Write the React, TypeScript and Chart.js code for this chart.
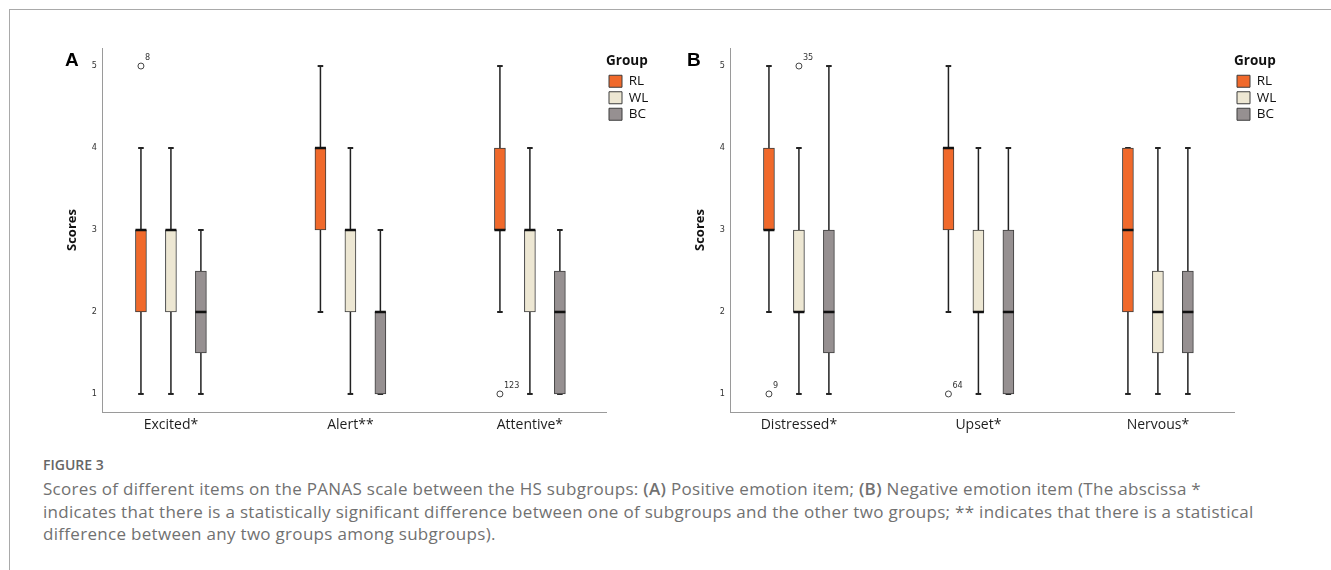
import React, { useEffect, useRef } from "react";
import { Chart, registerables } from "chart.js";

Chart.register(...registerables);

const FONT = '"Open Sans", "DejaVu Sans", sans-serif';
const NARROW = '"Liberation Sans Narrow", "DejaVu Sans Condensed", "Open Sans", sans-serif';

const GROUPS = ["RL", "WL", "BC"];
const GROUP_COLORS = ["#F0692B", "#EDE7D3", "#969091"];
const GROUP_OFFSETS = [-0.167, 0, 0.167];

const itemsA = ["Excited*", "Alert**", "Attentive*"];
const itemsB = ["Distressed*", "Upset*", "Nervous*"];

// each row: [min, q1, median, q3, max]
const rlA = [[1, 2, 3, 3, 4], [2, 3, 4, 4, 5], [2, 3, 3, 4, 5]];
const wlA = [[1, 2, 3, 3, 4], [1, 2, 3, 3, 4], [1, 2, 3, 3, 4]];
const bcA = [[1, 1.5, 2, 2.5, 3], [1, 1, 2, 2, 3], [1, 1, 2, 2.5, 3]];
const outliersA = [
  { item: 0, group: 0, value: 5, label: "8" },
  { item: 2, group: 0, value: 1, label: "123" },
];

const rlB = [[2, 3, 3, 4, 5], [2, 3, 4, 4, 5], [1, 2, 3, 4, 4]];
const wlB = [[1, 2, 2, 3, 4], [1, 2, 2, 3, 4], [1, 1.5, 2, 2.5, 4]];
const bcB = [[1, 1.5, 2, 3, 5], [1, 1, 2, 3, 4], [1, 1.5, 2, 2.5, 4]];
const outliersB = [
  { item: 0, group: 0, value: 1, label: "9" },
  { item: 0, group: 1, value: 5, label: "35" },
  { item: 1, group: 0, value: 1, label: "64" },
];

const yTicks = [1, 2, 3, 4, 5];
const Y_MIN = 0.78;
const Y_MAX = 5.22;
const X_MIN = -0.384;
const X_MAX = 2.424;

const outlierLabelPlugin = {
  id: "outlierLabels",
  afterDatasetsDraw(chart: any) {
    const idx = chart.data.datasets.findIndex((d: any) => d.label === "Outliers");
    if (idx < 0) return;
    const meta = chart.getDatasetMeta(idx);
    const ds = chart.data.datasets[idx];
    const ctx = chart.ctx;
    ctx.save();
    ctx.font = `9px ${NARROW}`;
    ctx.fillStyle = "#333";
    ctx.textAlign = "left";
    ctx.textBaseline = "middle";
    meta.data.forEach((pt: any, i: number) => {
      ctx.fillText(ds.data[i].label, pt.x + 4, pt.y - 8);
    });
    ctx.restore();
  },
};

function buildConfig(items: string[], series: number[][][], outliers: any[]): any {
  const boxes = series.map((rows, g) => ({
    type: "bar",
    label: GROUPS[g],
    data: rows.map((r, i) => ({ x: i + GROUP_OFFSETS[g], y: [r[1], r[3]] })),
    backgroundColor: GROUP_COLORS[g],
    borderColor: "#3c3c3c",
    borderWidth: 1,
    borderSkipped: false,
    barThickness: 11,
    grouped: false,
    order: 2,
  }));
  const whiskerData: any[] = [];
  const medianData: any[] = [];
  series.forEach((rows, g) =>
    rows.forEach((r, i) => {
      const x = i + GROUP_OFFSETS[g];
      whiskerData.push({ x, y: r[0] }, { x, y: r[4] }, { x, y: null });
      medianData.push({ x, y: r[2] });
    })
  );
  const whiskers = {
    type: "line",
    label: "Whiskers",
    data: whiskerData,
    borderColor: "#222",
    borderWidth: 1.5,
    spanGaps: false,
    pointStyle: "line",
    pointRadius: 2.8,
    pointBorderWidth: 2,
    pointBorderColor: "#222",
    order: 3,
  };
  const medians = {
    type: "line",
    label: "Medians",
    data: medianData,
    showLine: false,
    pointStyle: "line",
    pointRadius: 5.5,
    pointBorderWidth: 2.5,
    pointBorderColor: "#111",
    order: 1,
  };
  const outs = {
    type: "line",
    label: "Outliers",
    data: outliers.map((o) => ({ x: o.item + GROUP_OFFSETS[o.group], y: o.value, label: o.label })),
    showLine: false,
    pointStyle: "circle",
    pointRadius: 3,
    pointBorderWidth: 1,
    pointBorderColor: "#444",
    pointBackgroundColor: "#fff",
    order: 0,
  };
  return {
    type: "bar",
    data: { datasets: [...boxes, whiskers, medians, outs] },
    plugins: [outlierLabelPlugin],
    options: {
      animation: false,
      responsive: false,
      maintainAspectRatio: false,
      events: [],
      layout: { padding: { top: 18, left: 0, right: 0, bottom: 0 } },
      plugins: {
        tooltip: { enabled: false },
        legend: {
          position: "right",
          align: "start",
          maxWidth: 50,
          title: {
            display: true,
            text: "Group",
            position: "start",
            color: "#111",
            font: { family: FONT, size: 13.5, weight: "bold" },
            padding: { top: 6, bottom: 1.3 },
          },
          labels: {
            boxWidth: 13,
            boxHeight: 12,
            padding: 3,
            color: "#111",
            font: { family: FONT, size: 13.5 },
            filter: (item: any) => item.datasetIndex < 3,
          },
        },
      },
      scales: {
        x: {
          type: "linear",
          offset: false,
          min: X_MIN,
          max: X_MAX,
          grid: { display: false, drawTicks: false, offset: false },
          border: { display: true, color: "#9a9a9a", width: 1 },
          afterBuildTicks: (s: any) => {
            s.ticks = items.map((_, i) => ({ value: i }));
          },
          ticks: {
            callback: (_v: any, i: number) => items[i],
            autoSkip: false,
            maxRotation: 0,
            padding: 4.5,
            color: "#1e1e1e",
            font: { family: FONT, size: 14 },
          },
          afterFit: (s: any) => {
            s.height = 28;
          },
        },
        y: {
          type: "linear",
          min: Y_MIN,
          max: Y_MAX,
          grid: { display: false, drawTicks: false },
          border: { display: true, color: "#9a9a9a", width: 1 },
          afterBuildTicks: (s: any) => {
            s.ticks = yTicks.map((v) => ({ value: v }));
          },
          ticks: {
            callback: (v: any) => String(v),
            padding: 5,
            color: "#333",
            font: { family: NARROW, size: 9 },
          },
          title: {
            display: true,
            text: "Scores",
            color: "#111",
            font: { family: FONT, size: 13, weight: "bold" },
            padding: { top: 24, bottom: 0 },
          },
          afterFit: (s: any) => {
            s.width = 62;
          },
        },
      },
    },
  };
}

const captionLine: React.CSSProperties = {
  position: "absolute",
  left: 43,
  whiteSpace: "nowrap",
  fontSize: 17,
  lineHeight: "22.5px",
  letterSpacing: "0.3px",
  color: "#717171",
  fontFamily: FONT,
};

export default function App() {
  const refA = useRef<HTMLCanvasElement>(null);
  const refB = useRef<HTMLCanvasElement>(null);

  useEffect(() => {
    const a = new Chart(refA.current as HTMLCanvasElement, buildConfig(itemsA, [rlA, wlA, bcA], outliersA));
    const b = new Chart(refB.current as HTMLCanvasElement, buildConfig(itemsB, [rlB, wlB, bcB], outliersB));
    return () => {
      a.destroy();
      b.destroy();
    };
  }, []);

  const letter: React.CSSProperties = {
    position: "absolute",
    top: 49.5,
    fontFamily: '"Liberation Sans", Arial, sans-serif',
    fontWeight: "bold",
    fontSize: 19,
    lineHeight: "19px",
    color: "#000",
  };

  return (
    <div
      style={{
        position: "absolute",
        left: 0,
        top: 0,
        width: 1331,
        height: 570,
        background: "#fff",
        overflow: "hidden",
        fontFamily: FONT,
      }}
    >
      <div
        style={{
          position: "absolute",
          left: 9,
          top: 9,
          width: 1330,
          height: 570,
          borderTop: "1px solid #a9a9a9",
          borderLeft: "1px solid #a9a9a9",
        }}
      />
      <canvas ref={refA} width={616} height={410} style={{ position: "absolute", left: 40, top: 30 }} />
      <canvas ref={refB} width={616} height={410} style={{ position: "absolute", left: 668, top: 30 }} />
      <div style={{ ...letter, left: 65 }}>A</div>
      <div style={{ ...letter, left: 687 }}>B</div>
      <div
        style={{
          position: "absolute",
          left: 43,
          top: 457.6,
          fontSize: 14,
          lineHeight: "14px",
          fontWeight: 600,
          color: "#666",
          fontFamily: FONT,
          whiteSpace: "nowrap",
        }}
      >
        FIGURE 3
      </div>
      <div style={{ ...captionLine, top: 478.2 }}>
        Scores of different items on the PANAS scale between the HS subgroups: <b style={{ fontWeight: 600 }}>(A)</b>{" "}
        Positive emotion item; <b style={{ fontWeight: 600 }}>(B)</b> Negative emotion item (The abscissa *
      </div>
      <div style={{ ...captionLine, top: 500.7 }}>
        indicates that there is a statistically significant difference between one of subgroups and the other two groups; ** indicates that there is a statistical
      </div>
      <div style={{ ...captionLine, top: 523.2 }}>difference between any two groups among subgroups).</div>
    </div>
  );
}
